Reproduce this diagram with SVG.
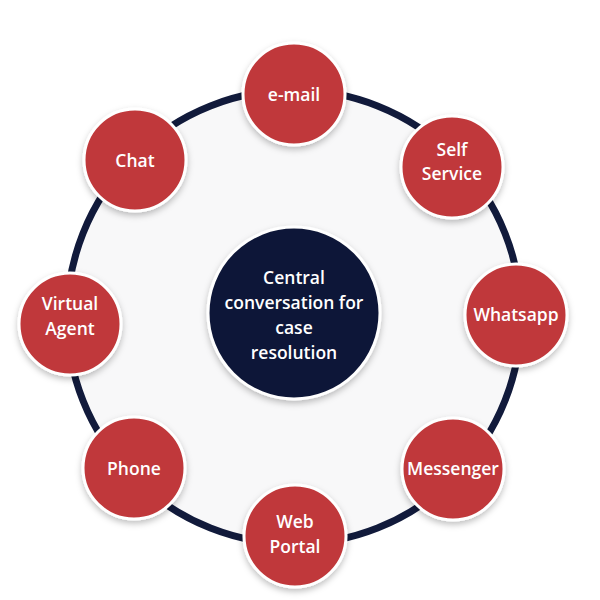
<svg xmlns="http://www.w3.org/2000/svg" width="600" height="600" viewBox="0 0 600 600">
<defs>
<filter id="sh" x="-30%" y="-30%" width="160%" height="160%">
<feDropShadow dx="0" dy="3" stdDeviation="3" flood-color="#000" flood-opacity="0.25"/>
</filter>
<style>
.node{fill:#c0393b;stroke:#ffffff;stroke-width:3;filter:url(#sh)}
.center{fill:#101838;stroke:#ffffff;stroke-width:3;filter:url(#sh)}
.lbl{font-family:"Open Sans","Liberation Sans",sans-serif;font-weight:600;font-size:17.5px;fill:#ffffff;text-anchor:middle}
.ring{fill:#f8f8f9;stroke:#111a3b;stroke-width:7}
</style>
</defs>
<rect width="600" height="600" fill="#ffffff"/>
<g id="connectors">
<circle class="ring" cx="294" cy="317" r="227"/>
</g>
<g id="central">
<circle class="center" cx="294" cy="313" r="86"/>
<text class="lbl" x="294" y="284">Central</text>
<text class="lbl" x="294" y="309">conversation for</text>
<text class="lbl" x="294" y="334">case</text>
<text class="lbl" x="294" y="359">resolution</text>
</g>
<g id="email">
<circle class="node" cx="294" cy="94" r="51"/>
<text class="lbl" x="294" y="101">e-mail</text>
</g>
<g id="selfservice">
<circle class="node" cx="452" cy="167" r="51"/>
<text class="lbl" x="452" y="156">Self</text>
<text class="lbl" x="452" y="180">Service</text>
</g>
<g id="whatsapp">
<circle class="node" cx="516" cy="315" r="51"/>
<text class="lbl" x="516" y="321">Whatsapp</text>
</g>
<g id="messenger">
<circle class="node" cx="453" cy="469" r="51"/>
<text class="lbl" x="453" y="475">Messenger</text>
</g>
<g id="webportal">
<circle class="node" cx="295" cy="536" r="51"/>
<text class="lbl" x="295" y="528">Web</text>
<text class="lbl" x="295" y="553">Portal</text>
</g>
<g id="phone">
<circle class="node" cx="134" cy="468" r="51"/>
<text class="lbl" x="134" y="475">Phone</text>
</g>
<g id="virtualagent">
<circle class="node" cx="70" cy="324" r="51"/>
<text class="lbl" x="70" y="310">Virtual</text>
<text class="lbl" x="70" y="335">Agent</text>
</g>
<g id="chat">
<circle class="node" cx="135" cy="160" r="51"/>
<text class="lbl" x="135" y="167">Chat</text>
</g>
</svg>
